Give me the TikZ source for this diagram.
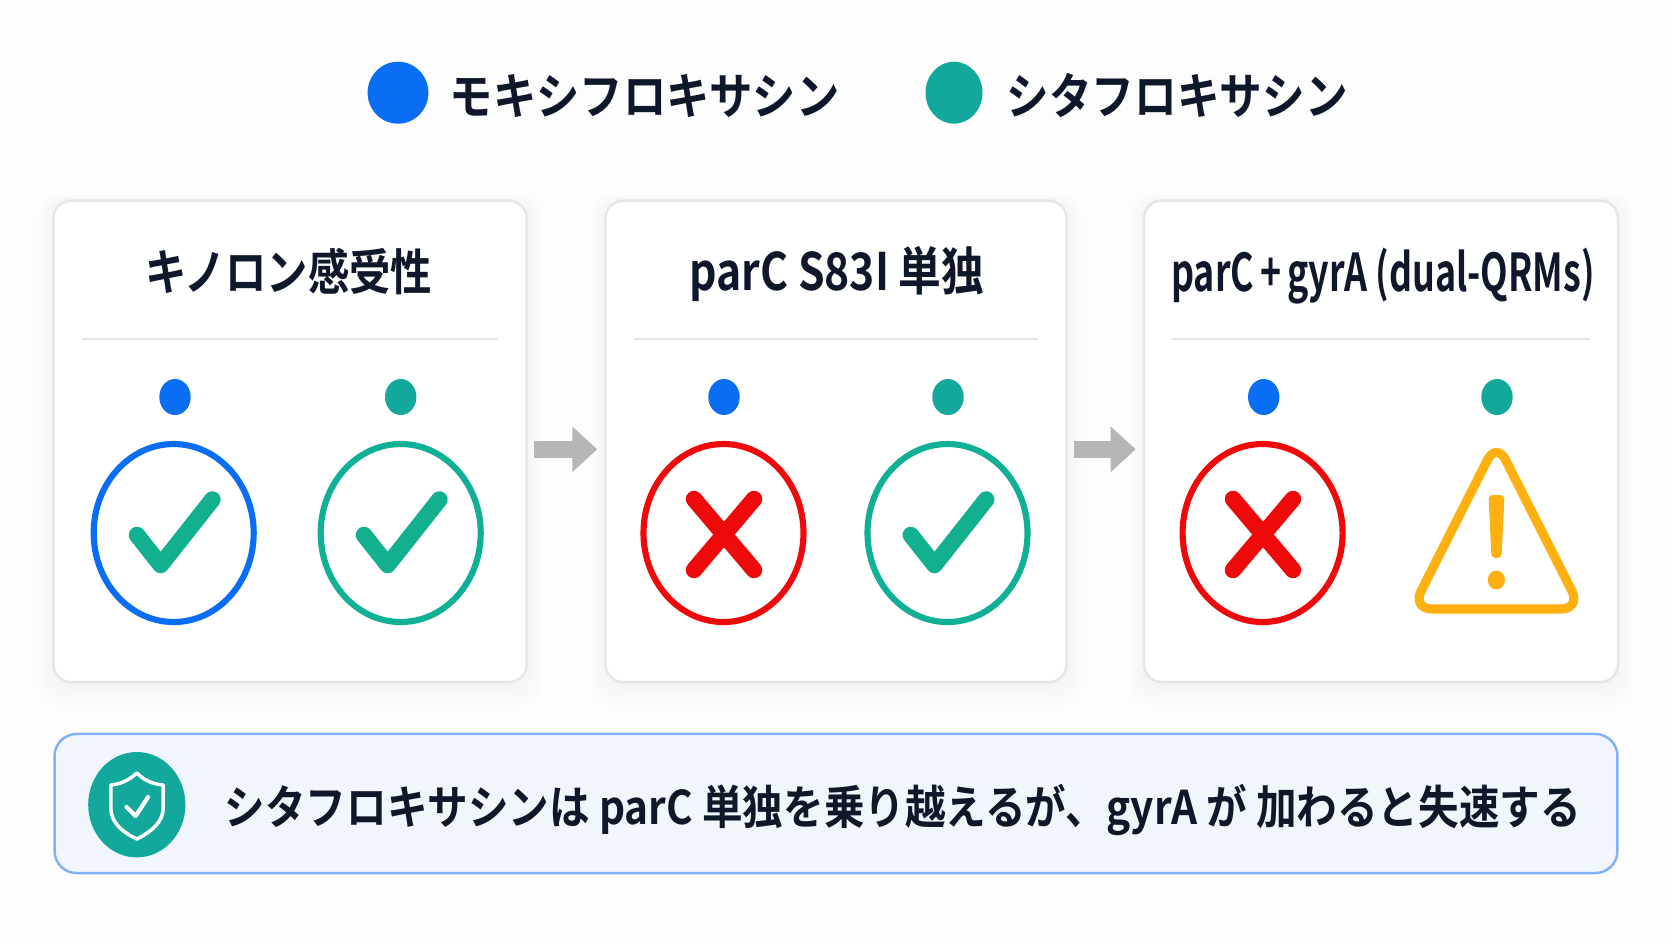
\documentclass[tikz,border=0pt]{standalone}
\usepackage{fontspec}
\usepackage{graphicx}
\setmainfont{Noto Sans CJK JP}[BoldFont=* Bold]
\usetikzlibrary{arrows.meta}

\definecolor{pageback}{HTML}{FDFDFE}
\definecolor{inkdark}{HTML}{0F172A}
\definecolor{moxiblue}{HTML}{0A6EF5}
\definecolor{sitateal}{HTML}{12A89C}
\definecolor{ringteal}{HTML}{0FB096}
\definecolor{checkteal}{HTML}{12B08E}
\definecolor{failred}{HTML}{EE0A0A}
\definecolor{warnamber}{HTML}{FDB00F}
\definecolor{arrowgray}{HTML}{B6B6B6}
\definecolor{cardline}{HTML}{E4E6EB}
\definecolor{ruleline}{HTML}{E1E4EA}
\definecolor{bannerfill}{HTML}{F1F6FD}
\definecolor{bannerline}{HTML}{82B2F5}

\tikzset{
  card/.style={draw=cardline,line width=0.7pt,fill=white,rounded corners=0.18cm,
    minimum height=4.813cm,inner sep=0pt},
  titletext/.style={font=\fontsize{14}{16}\bfseries,text=inkdark,inner sep=0pt},
  legendtext/.style={font=\fontsize{14}{16}\bfseries,text=inkdark,inner sep=0pt,anchor=west},
  bannertext/.style={font=\fontsize{13.2}{16}\bfseries,text=inkdark,inner sep=0pt,anchor=west},
  ruleh/.style={draw=ruleline,line width=0.6pt},
  ringmark/.style={line width=1.75pt},
  tickmark/.style={draw=checkteal,line width=4.7pt,line cap=round,line join=round},
  crossmark/.style={draw=failred,line width=4.7pt,line cap=round},
  flow/.style={draw=arrowgray,line width=5pt,-{Triangle[length=0.25cm,width=0.44cm]},
    shorten <=0.06cm,shorten >=0.07cm},
}

\newcommand{\squeezed}[3]{\scalebox{#1}[#2]{#3}}

\begin{document}
\begin{tikzpicture}[x=0.01cm,y=-0.01cm]
\fill[pageback] (0,0) rectangle (1672,941);
\useasboundingbox (0,0) rectangle (1672,941);

% legend

\coordinate (lm) at (398,92.7);
\fill[moxiblue] (lm) ellipse [x radius=30.4,y radius=31];
\node[legendtext] (legm) at (449,96) {\squeezed{0.88}{1}{モキシフロキサシン}};
\coordinate (ls) at (954,92.7);
\fill[sitateal] (ls) ellipse [x radius=28.5,y radius=31];
\node[legendtext] (legs) at (1006,96) {\squeezed{0.866}{1}{シタフロキサシン}};

% card shadows, then cards

\foreach \nm/\cx/\cw in {c1/290/473.4,c2/836/461,c3/1381/474.1}
{
  \foreach \g in {1,...,8}
  {
    \fill[black,opacity=0.004,rounded corners=0.2cm]
      ({\cx-\cw/2-\g*2},{201-\g*0.8}) rectangle ({\cx+\cw/2+\g*2},{682+4+\g*2.6});
  }
  \node[card,minimum width=\cw*0.01cm] (\nm) at (\cx,441.3) {};
}

% card titles and rules

\node[titletext] (t1) at (289,272) {\squeezed{0.84}{1}{キノロン感受性}};
\node[titletext] (t2) at (837,274) {\squeezed{0.868}{1.05}{parC S83I 単独}};
\node[titletext] (t3) at (1383,276) {\squeezed{0.728}{1.06}{parC\,+\,gyrA (dual-QRMs)}};
\draw[ruleh] (81.5,339) -- (498,339);
\draw[ruleh] (633.5,339) -- (1037.5,339);
\draw[ruleh] (1172.4,339) -- (1590,339);

% arrows between cards

\draw[flow] ([yshift=-0.08cm]c1.east) -- ([yshift=-0.08cm]c2.west);
\draw[flow] ([yshift=-0.08cm]c2.east) -- ([yshift=-0.08cm]c3.west);

% small dots

\foreach \x/\col in {175/moxiblue,400.7/sitateal,724/moxiblue,948/sitateal,1263.7/moxiblue,1497/sitateal}
{
  \fill[\col] (\x,397) ellipse [x radius=15.7,y radius=18];
}

% rings

\foreach \x/\col in {173.7/moxiblue,400.7/ringteal,723.5/failred,947.5/ringteal,1262.6/failred}
{
  \draw[\col,ringmark] (\x,533) ellipse [x radius=80,y radius=89];
}

% ticks

\foreach \x in {173.7,400.7,947.5}
{
  \draw[tickmark] (\x-36.7,535) -- (\x-13,565) -- (\x+38.7,499.5);
}

% crosses

\foreach \x in {724,1263}
{
  \draw[crossmark] (\x-30,499) -- (\x+30,570);
  \draw[crossmark] (\x+30,499) -- (\x-30,570);
}

% warning triangle

\draw[warnamber,line width=2.6pt,rounded corners=0.2cm,line join=round]
  (1496.5,442) -- (1581,609) -- (1412,609) -- cycle;
\fill[warnamber,rounded corners=0.04cm] (1488.5,495) -- (1504.5,495) -- (1501.5,558) -- (1491.5,558) -- cycle;
\fill[warnamber] (1496.4,580) ellipse [x radius=8.6,y radius=9.5];

% banner

\node[draw=bannerline,line width=0.7pt,fill=bannerfill,rounded corners=0.22cm,
  minimum width=15.62cm,minimum height=1.39cm,inner sep=0pt] (bn) at (836,803.5) {};
\coordinate (ic) at (136.8,804.7);
\fill[sitateal] (ic) ellipse [x radius=48.6,y radius=52.7];
\draw[white,line width=1pt,line join=round]
  (136.8,773) .. controls (128,781) and (120,784) .. (110.8,785)
  -- (110.8,808) .. controls (110.8,822) and (122,832) .. (136.8,839)
  .. controls (151,832) and (163.2,822) .. (163.2,808)
  -- (163.2,785) .. controls (153,784) and (145,781) .. (136.8,773) -- cycle;
\draw[white,line width=1.2pt,line cap=round,line join=round]
  (126.5,807) -- (135.7,816) -- (148,797);
\node[bannertext] (bt) at (224,810) {\squeezed{0.8745}{1}{シタフロキサシンは parC 単独を乗り越えるが、gyrA が 加わると失速する}};

\end{tikzpicture}
\end{document}
